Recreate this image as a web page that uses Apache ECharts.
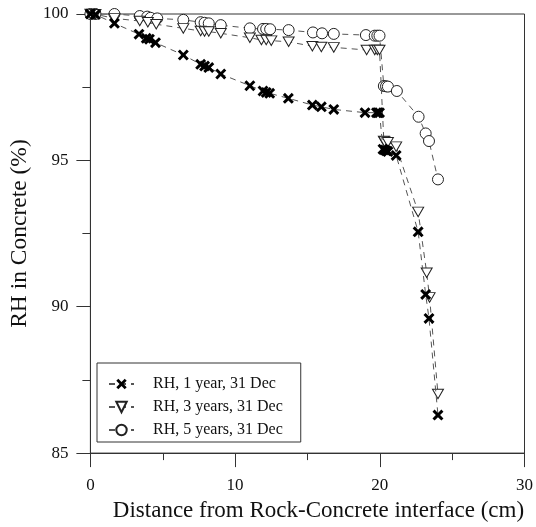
<!DOCTYPE html>
<html>
<head>
<meta charset="utf-8">
<script src="https://cdn.jsdelivr.net/npm/echarts@6/dist/echarts.min.js"></script>
<style>html,body{margin:0;padding:0;background:#fff}#c{width:536px;height:527px}</style>
</head>
<body>
<div id="c"></div>
<script>
const seriesNames = ['RH, 1 year, 31 Dec', 'RH, 3 years, 31 Dec', 'RH, 5 years, 31 Dec'];

const rh1x = [0, 0.35, 1.66, 3.36, 3.86, 4.08, 4.50, 6.42, 7.62, 7.89, 8.18, 9.01, 11.02, 11.93, 12.15, 12.39, 13.68, 15.34, 15.96, 16.82, 18.98, 19.77, 19.88, 19.98, 20.22, 20.33, 20.45, 20.56, 21.13, 22.65, 23.17, 23.40, 24.02];
const rh1y = [100, 99.98, 99.68, 99.31, 99.17, 99.14, 99.02, 98.6, 98.28, 98.22, 98.17, 97.95, 97.55, 97.37, 97.32, 97.29, 97.12, 96.89, 96.83, 96.74, 96.63, 96.63, 96.63, 96.63, 95.38, 95.35, 95.33, 95.30, 95.17, 92.56, 90.42, 89.6, 86.3];

const rh3x = [0, 0.35, 1.66, 3.41, 3.97, 4.55, 6.42, 7.62, 7.89, 8.18, 9.01, 11.02, 11.82, 12.15, 12.5, 13.7, 15.34, 15.96, 16.82, 19.09, 19.65, 19.83, 19.98, 20.28, 20.33, 20.56, 21.13, 22.65, 23.24, 23.44, 24.02];
const rh3y = [100, 99.99, 99.85, 99.76, 99.72, 99.65, 99.51, 99.42, 99.40, 99.40, 99.34, 99.19, 99.11, 99.11, 99.09, 99.05, 98.90, 98.87, 98.86, 98.77, 98.77, 98.77, 98.77, 95.66, 95.64, 95.62, 95.47, 93.24, 91.16, 90.32, 87.02];

const rh5x = [0, 0.35, 1.66, 3.41, 3.93, 4.16, 4.62, 6.42, 7.62, 7.89, 8.18, 9.01, 11.02, 11.93, 12.15, 12.42, 13.7, 15.38, 16.01, 16.82, 19.04, 19.65, 19.83, 19.98, 20.28, 20.43, 20.56, 21.18, 22.68, 23.17, 23.40, 24.02];
const rh5y = [100, 100, 100, 99.93, 99.91, 99.87, 99.85, 99.8, 99.72, 99.70, 99.68, 99.62, 99.51, 99.49, 99.49, 99.48, 99.45, 99.37, 99.34, 99.32, 99.28, 99.26, 99.26, 99.26, 97.54, 97.53, 97.52, 97.37, 96.49, 95.92, 95.66, 94.35];

const pairs = (xs, ys) => xs.map((v, i) => [v, ys[i]]);

const xPath = 'path://M0,1.9L1.9,0L5,3.1L8.1,0L10,1.9L6.9,5L10,8.1L8.1,10L5,6.9L1.9,10L0,8.1L3.1,5Z';
const triPath = 'path://M0,0L10,0L5,8.66Z';

const font = 'Liberation Serif, Times New Roman, serif';
const lineStyle = { color: '#555', width: 1, type: [6, 5] };
const axisColor = '#333';

const chart = echarts.init(document.getElementById('c'), null, { renderer: 'canvas' });
chart.setOption({
  animation: false,
  backgroundColor: '#fff',
  grid: { left: 85, right: 11, top: 14, bottom: 73, show: true, borderColor: axisColor, borderWidth: 1 },
  xAxis: {
    type: 'value', min: 0, max: 30, interval: 10,
    name: 'Distance from Rock-Concrete interface (cm)', nameLocation: 'middle', nameGap: 45,
    nameTextStyle: { fontFamily: font, fontSize: 23, color: '#111', padding: [0, 0, 0, 22] },
    axisLine: { lineStyle: { color: axisColor } },
    axisTick: { inside: false, length: 14, lineStyle: { color: axisColor } },
    minorTick: { show: true, splitNumber: 2, length: 7, lineStyle: { color: axisColor } },
    axisLabel: { fontFamily: font, fontSize: 17, color: '#111', margin: 24 },
    splitLine: { show: false }
  },
  yAxis: {
    type: 'value', min: 85, max: 100, interval: 5,
    name: 'RH in Concrete (%)', nameLocation: 'middle', nameGap: 54,
    nameTextStyle: { fontFamily: font, fontSize: 23.5, color: '#111' },
    axisLine: { lineStyle: { color: axisColor } },
    axisTick: { inside: false, length: 14, lineStyle: { color: axisColor } },
    minorTick: { show: true, splitNumber: 2, length: 8, lineStyle: { color: axisColor } },
    axisLabel: { fontFamily: font, fontSize: 17, color: '#111', margin: 22 },
    splitLine: { show: false }
  },
  legend: {
    orient: 'vertical', left: 97, top: 363,
    padding: [13, 18, 4, 11], itemGap: 7, itemWidth: 25, itemHeight: 13,
    borderColor: axisColor, borderWidth: 1, backgroundColor: '#fff',
    textStyle: { fontFamily: font, fontSize: 16, color: '#111', padding: [0, 0, 0, 14] },
    data: seriesNames
  },
  series: [
    { name: seriesNames[0], type: 'line', data: pairs(rh1x, rh1y), symbol: xPath, symbolSize: 11,
      itemStyle: { color: '#000', borderWidth: 0 }, lineStyle: lineStyle, z: 3 },
    { name: seriesNames[1], type: 'line', data: pairs(rh3x, rh3y), symbol: triPath, symbolSize: [11, 9.5],
      itemStyle: { color: '#fff', borderColor: '#222', borderWidth: 1 }, lineStyle: lineStyle, z: 2 },
    { name: seriesNames[2], type: 'line', data: pairs(rh5x, rh5y), symbol: 'circle', symbolSize: 11,
      itemStyle: { color: '#fff', borderColor: '#222', borderWidth: 1 }, lineStyle: lineStyle, z: 1 }
  ]
});
</script>
</body>
</html>
